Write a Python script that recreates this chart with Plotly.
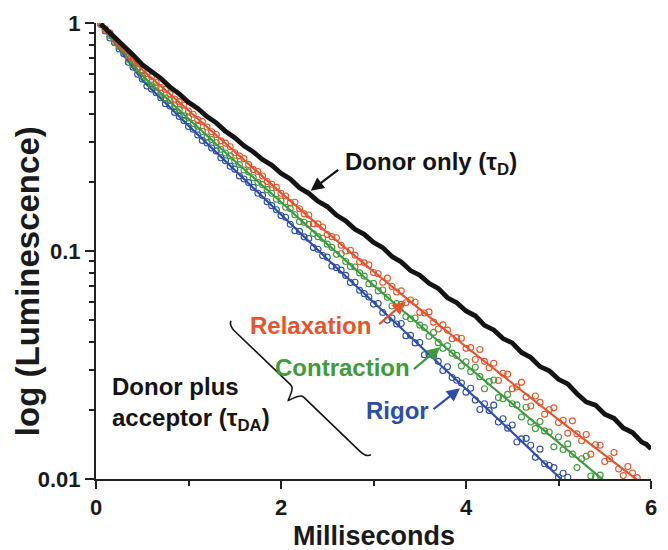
import plotly.graph_objects as go

# ---------------- data (log10 of luminescence) ----------------
donor_time_ms = [0.05] + [round(0.1 * i, 1) for i in range(1, 60)] + [5.95, 6.0]
donor_log10 = [
    -0.004, -0.023, -0.060, -0.104, -0.140, -0.183, -0.211, -0.243, -0.281, -0.311,
    -0.348, -0.375, -0.410, -0.438, -0.475, -0.503, -0.539, -0.565, -0.599, -0.624,
    -0.659, -0.684, -0.723, -0.747, -0.782, -0.805, -0.843, -0.868, -0.905, -0.927,
    -0.962, -0.985, -1.024, -1.048, -1.086, -1.106, -1.142, -1.164, -1.205, -1.227,
    -1.263, -1.284, -1.326, -1.346, -1.384, -1.403, -1.445, -1.467, -1.507, -1.525,
    -1.563, -1.583, -1.626, -1.662, -1.676, -1.716, -1.734, -1.776, -1.796, -1.838,
    -1.848, -1.868,
]

relax_log10 = [
    -0.002, -0.031, -0.043, -0.071, -0.096, -0.112, -0.144, -0.158, -0.179, -0.209,
    -0.223, -0.235, -0.261, -0.283, -0.291, -0.310, -0.334, -0.346, -0.360, -0.386,
    -0.400, -0.424, -0.432, -0.456, -0.477, -0.489, -0.517, -0.527, -0.543, -0.569,
    -0.583, -0.595, -0.621, -0.643, -0.651, -0.671, -0.695, -0.707, -0.721, -0.747,
    -0.759, -0.788, -0.786, -0.815, -0.837, -0.842, -0.880, -0.881, -0.895, -0.928,
    -0.937, -0.942, -0.975, -1.000, -0.997, -1.018, -1.047, -1.052, -1.061, -1.094,
    -1.100, -1.137, -1.119, -1.156, -1.180, -1.175, -1.227, -1.215, -1.225, -1.269,
    -1.272, -1.267, -1.312, -1.342, -1.324, -1.347, -1.385, -1.380, -1.383, -1.427,
    -1.424, -1.476, -1.432, -1.484, -1.512, -1.492, -1.568, -1.536, -1.540, -1.604,
    -1.596, -1.576, -1.640, -1.680, -1.636, -1.664, -1.716, -1.696, -1.688, -1.752,
    -1.742, -1.799, -1.745, -1.802, -1.832, -1.805, -1.891, -1.850, -1.852, -1.923,
    -1.911, -1.884, -1.956, -1.985, -1.945, -1.974, -1.994,
]

contract_log10 = [
    -0.007, -0.026, -0.055, -0.086, -0.103, -0.124, -0.159, -0.182, -0.201, -0.230,
    -0.247, -0.272, -0.281, -0.308, -0.329, -0.340, -0.363, -0.380, -0.407, -0.416,
    -0.441, -0.453, -0.476, -0.500, -0.511, -0.525, -0.554, -0.570, -0.583, -0.605,
    -0.621, -0.645, -0.653, -0.679, -0.699, -0.709, -0.731, -0.747, -0.773, -0.781,
    -0.808, -0.814, -0.841, -0.871, -0.874, -0.884, -0.923, -0.937, -0.944, -0.970,
    -0.984, -1.014, -1.012, -1.046, -1.068, -1.070, -1.096, -1.110, -1.144, -1.142,
    -1.175, -1.171, -1.203, -1.241, -1.231, -1.234, -1.287, -1.297, -1.294, -1.325,
    -1.336, -1.374, -1.357, -1.402, -1.427, -1.416, -1.448, -1.458, -1.504, -1.486,
    -1.529, -1.510, -1.551, -1.604, -1.573, -1.566, -1.643, -1.648, -1.629, -1.670,
    -1.675, -1.728, -1.685, -1.750, -1.779, -1.748, -1.789, -1.794, -1.859, -1.816,
    -1.871, -1.846, -1.891, -1.950, -1.911, -1.900, -1.987, -1.990, -1.983,
]

rigor_log10 = [
    -0.001, -0.035, -0.066, -0.085, -0.114, -0.135, -0.172, -0.194, -0.225, -0.246,
    -0.276, -0.290, -0.306, -0.328, -0.354, -0.364, -0.392, -0.410, -0.428, -0.454,
    -0.466, -0.491, -0.515, -0.526, -0.548, -0.561, -0.591, -0.604, -0.628, -0.641,
    -0.671, -0.684, -0.700, -0.721, -0.747, -0.756, -0.784, -0.801, -0.819, -0.844,
    -0.852, -0.883, -0.911, -0.914, -0.938, -0.945, -0.985, -0.992, -1.020, -1.027,
    -1.066, -1.073, -1.084, -1.107, -1.138, -1.137, -1.172, -1.187, -1.202, -1.233,
    -1.230, -1.270, -1.303, -1.294, -1.320, -1.318, -1.372, -1.370, -1.403, -1.401,
    -1.455, -1.453, -1.458, -1.484, -1.524, -1.508, -1.555, -1.567, -1.579, -1.619,
    -1.602, -1.654, -1.695, -1.670, -1.700, -1.676, -1.750, -1.736, -1.777, -1.763,
    -1.838, -1.824, -1.822, -1.852, -1.905, -1.869, -1.933, -1.941, -1.950, -1.992,
    -1.975, -1.992,
]

# sampling grid of the coloured records (every 0.05 ms)
relax_time_ms = [round(0.05 * i, 2) for i in range(1, len(relax_log10) + 1)]
contract_time_ms = [round(0.05 * i, 2) for i in range(1, len(contract_log10) + 1)]
rigor_time_ms = [round(0.05 * i, 2) for i in range(1, len(rigor_log10) + 1)]

# fitted decay curves (log10)
fit_time_ms = [0.04, 0.5, 1.0, 1.5, 2.0, 2.5, 3.0, 3.5, 4.0, 4.5, 5.0, 5.5, 6.0]
relax_fit_log10 = [0, -0.205, -0.384, -0.565, -0.745, -0.92, -1.09, -1.255, -1.42, -1.58, -1.74, -1.895, -2.05]
contract_fit_log10 = [0, -0.23, -0.42, -0.605, -0.785, -0.97, -1.15, -1.325, -1.5, -1.67, -1.84, -2.01, -2.18]
rigor_fit_log10 = [0, -0.25, -0.45, -0.645, -0.84, -1.035, -1.225, -1.415, -1.605, -1.795, -1.99, -2.18, -2.37]

x_tick_vals = [0, 2, 4, 6]
x_minor_vals = [1, 3, 5]
y_tick_vals = [0.01, 0.1, 1]
y_tick_text = ["0.01", "0.1", "1"]
y_minor_vals = [k * 0.01 for k in range(2, 10)] + [k * 0.1 for k in range(2, 10)]

# ---------------- styling ----------------
BLACK = "#141414"
RED = "#E6542B"
GREEN = "#3F9A3C"
BLUE = "#2C4DAA"
FONT = "Liberation Sans, Arial, Helvetica, sans-serif"

W, H = 668, 550
ML, MR, MT, MB = 96, 11, 22, 71
PW, PH = W - ML - MR, H - MT - MB


def px(X):
    return (X - ML) / PW


def py(Y):
    return (H - MB - Y) / PH


def lum(values):
    return [10 ** v for v in values]


fig = go.Figure()

series = [
    (rigor_time_ms, rigor_log10, rigor_fit_log10, BLUE, "Rigor"),
    (contract_time_ms, contract_log10, contract_fit_log10, GREEN, "Contraction"),
    (relax_time_ms, relax_log10, relax_fit_log10, RED, "Relaxation"),
]
for t, v, fv, col, name in series:
    fig.add_trace(go.Scatter(
        x=t, y=lum(v), mode="markers", name=name,
        marker=dict(symbol="circle-open", size=6, color=col, line=dict(width=1.1, color=col)),
        showlegend=False,
    ))
    fig.add_trace(go.Scatter(
        x=fit_time_ms, y=lum(fv), mode="lines", name=name + " fit",
        line=dict(color=col, width=2.2), showlegend=False,
    ))

fig.add_trace(go.Scatter(
    x=donor_time_ms, y=lum(donor_log10), mode="lines", name="Donor only",
    line=dict(color=BLACK, width=4.8), showlegend=False,
))

axis_font = dict(family=FONT, size=22, color="#1a1a1a", weight="bold")
fig.update_xaxes(
    range=[0, 6], tickvals=x_tick_vals, ticks="outside", ticklen=8, tickwidth=2,
    tickcolor="#222", showline=True, linewidth=2, linecolor="#222",
    showgrid=False, zeroline=False, tickfont=axis_font,
    minor=dict(tickvals=x_minor_vals, ticks="outside", ticklen=5, tickwidth=2, tickcolor="#222"),
)
fig.update_yaxes(
    type="log", range=[-2, 0], tickvals=y_tick_vals, ticktext=y_tick_text,
    ticks="outside", ticklen=9, tickwidth=2, tickcolor="#222",
    showline=True, linewidth=2, linecolor="#222",
    showgrid=False, zeroline=False, tickfont=axis_font,
    minor=dict(tickvals=y_minor_vals, ticks="outside", ticklen=5, tickwidth=2, tickcolor="#222"),
)

ann_font = dict(family=FONT, size=24, weight="bold")
annotations = [
    dict(text="Donor only (τ<sub>D</sub>)", x=px(346), y=py(163), color=BLACK),
    dict(text="Relaxation", x=px(250), y=py(325), color=RED),
    dict(text="Contraction", x=px(275), y=py(367), color=GREEN),
    dict(text="Rigor", x=px(367), y=py(410), color=BLUE),
    dict(text="Donor plus<br>acceptor (τ<sub>DA</sub>)", x=px(110), y=py(404), color=BLACK),
]
for a in annotations:
    fig.add_annotation(
        text=a["text"], x=a["x"], y=a["y"], xref="paper", yref="paper",
        xanchor="left", yanchor="middle", align="left", showarrow=False,
        font=dict(ann_font, color=a["color"]),
    )

arrows = [
    ((313, 190), (342, 168), BLACK),
    ((409, 301), (381, 325), RED),
    ((444, 347), (416, 370), GREEN),
    ((464, 388), (436, 410), BLUE),
]
for (hx, hy), (tx, ty), col in arrows:
    fig.add_annotation(
        text="", x=px(hx), y=py(hy), xref="paper", yref="paper",
        ax=tx - hx, ay=ty - hy, showarrow=True, arrowhead=2, arrowsize=1.2,
        arrowwidth=2.2, arrowcolor=col, standoff=0,
    )

# axis titles
fig.add_annotation(
    text="Milliseconds", x=px(377), y=py(536), xref="paper", yref="paper",
    xanchor="center", yanchor="middle", showarrow=False,
    font=dict(family=FONT, size=27, color="#1a1a1a", weight="bold"),
)
fig.add_annotation(
    text="log (Luminescence)", x=px(27), y=py(281), xref="paper", yref="paper",
    xanchor="center", yanchor="middle", showarrow=False, textangle=-90,
    font=dict(family=FONT, size=33, color="#1a1a1a", weight="bold"),
)

# curly brace grouping the donor-plus-acceptor curves
brace_pts = [
    (232.4, 320.4), (230.5, 325.4), (236.3, 330.9), (292.8, 384.6),
    (297.2, 388.8), (291.0, 396.7), (290.4, 400.2),
    (293.9, 399.5), (301.5, 392.9), (305.9, 397.0),
    (363.1, 451.5), (368.9, 457.0), (373.8, 454.8),
]
P = [(px(a), py(b)) for a, b in brace_pts]
path = (
    f"M {P[0][0]},{P[0][1]} Q {P[1][0]},{P[1][1]} {P[2][0]},{P[2][1]} "
    f"L {P[3][0]},{P[3][1]} C {P[4][0]},{P[4][1]} {P[5][0]},{P[5][1]} {P[6][0]},{P[6][1]} "
    f"C {P[7][0]},{P[7][1]} {P[8][0]},{P[8][1]} {P[9][0]},{P[9][1]} "
    f"L {P[10][0]},{P[10][1]} Q {P[11][0]},{P[11][1]} {P[12][0]},{P[12][1]}"
)
fig.add_shape(type="path", path=path, xref="paper", yref="paper",
              line=dict(color=BLACK, width=1.6))

fig.update_layout(
    width=W, height=H, autosize=False,
    margin=dict(l=ML, r=MR, t=MT, b=MB, pad=0),
    paper_bgcolor="white", plot_bgcolor="white",
    font=dict(family=FONT, color="#1a1a1a"),
    showlegend=False,
)

# remove the browser's default page margin so the figure fills the window exactly
fig.write_html(
    "out.html",
    config={"displayModeBar": False},
    post_script="document.body.style.margin='0';document.body.style.padding='0';"
                "document.body.style.overflow='hidden';",
)
